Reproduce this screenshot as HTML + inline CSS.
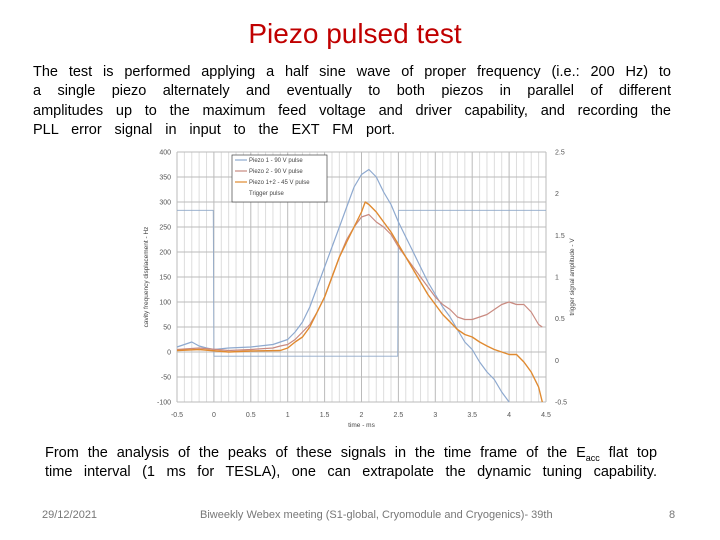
<!DOCTYPE html>
<html><head><meta charset="utf-8"><style>
body{margin:0;width:720px;height:540px;background:#fff;position:relative;overflow:hidden;font-family:"Liberation Sans",sans-serif}
.t{position:absolute}
#title{left:0;width:710px;top:18px;text-align:center;color:#c00000;font-size:28px}
.ln{position:absolute;font-size:14.5px;text-align:justify;text-align-last:justify;color:#000;white-space:nowrap;overflow:visible}
.f{font-size:11px;color:#777;top:509px}
</style></head><body>
<div class="t" id="title">Piezo pulsed test</div>
<div class="t" style="left:0;top:0">
<div class="ln" style="left:33px;width:638px;top:64px">The test is performed applying a half sine wave of proper frequency (i.e.: 200 Hz) to</div>
<div class="ln" style="left:33px;width:638px;top:83px">a single piezo alternately and eventually to both piezos in parallel of different</div>
<div class="ln" style="left:33px;width:638px;top:103px">amplitudes up to the maximum feed voltage and driver capability, and recording the</div>
<div class="ln" style="left:33px;width:362px;top:122px">PLL error signal in input to the EXT FM port.</div>
</div>
<svg class="t" style="left:0;top:0" width="720" height="540" id="chart"></svg>
<div class="t" style="left:0;top:0">
<div class="ln" style="left:45px;width:612px;top:445px">From the analysis of the peaks of these signals in the time frame of the E<sub style="font-size:9px">acc</sub> flat top</div>
<div class="ln" style="left:45px;width:612px;top:464px">time interval (1 ms for TESLA), one can extrapolate the dynamic tuning capability.</div>
</div>
<div class="t f" style="left:42px">29/12/2021</div>
<div class="t f" style="left:200px">Biweekly Webex meeting (S1-global, Cryomodule and Cryogenics)- 39th</div>
<div class="t f" style="left:669px">8</div>
<script>
const xTicks=[-0.5,0,0.5,1,1.5,2,2.5,3,3.5,4,4.5];
const yTicks=[400,350,300,250,200,150,100,50,0,-50,-100];
const y2Ticks=[2.5,2,1.5,1,0.5,0,-0.5];
const tBlue=[-0.5,-0.4,-0.3,-0.2,-0.1,0,0.2,0.5,0.8,1.0,1.1,1.2,1.3,1.4,1.5,1.6,1.7,1.8,1.9,2.0,2.1,2.2,2.3,2.4,2.5,2.6,2.7,2.8,2.9,3.0,3.1,3.2,3.3,3.4,3.5,3.6,3.7,3.8,3.9,4.0];
const vBlue=[10,15,20,12,8,5,8,10,15,25,40,60,90,130,170,210,250,290,330,355,365,350,320,295,260,230,200,170,140,115,90,70,45,20,5,-20,-40,-55,-80,-100];
const tRed=[-0.5,-0.2,0.2,0.5,0.8,0.9,1.0,1.1,1.2,1.3,1.4,1.5,1.6,1.7,1.8,1.9,2.0,2.1,2.2,2.3,2.4,2.5,2.6,2.7,2.8,2.9,3.0,3.1,3.2,3.3,3.4,3.5,3.6,3.7,3.8,3.9,4.0,4.1,4.2,4.3,4.4,4.45];
const vRed=[5,8,3,5,8,12,15,25,40,55,80,110,150,190,225,250,270,275,260,250,235,210,190,170,150,130,110,95,85,70,65,65,70,75,85,95,100,95,95,80,55,50];
const tOrange=[-0.5,-0.2,0.2,0.5,0.9,1.0,1.1,1.2,1.3,1.4,1.5,1.6,1.7,1.8,1.9,2.0,2.05,2.1,2.2,2.3,2.4,2.5,2.6,2.7,2.8,2.9,3.0,3.1,3.2,3.3,3.4,3.5,3.6,3.7,3.8,3.9,4.0,4.1,4.2,4.3,4.4,4.45];
const vOrange=[3,5,0,2,3,8,20,30,50,80,110,150,190,220,250,280,300,295,280,260,240,215,190,165,140,115,95,75,60,45,35,30,20,12,5,0,-5,-5,-20,-40,-70,-100];
const tTrig=[-0.5,-0.01,0,2.49,2.5,4.5];
const vTrig=[1.8,1.8,0.05,0.05,1.8,1.8];
const NS='http://www.w3.org/2000/svg',svg=document.getElementById('chart');
const X0=177,X1=546,Y0=152,Y1=402;
const sx=t=>X0+(t+0.5)/5*(X1-X0), sy=v=>Y0+(400-v)/500*(Y1-Y0), sy2=v=>Y0+(2.5-v)/3*(Y1-Y0);
function el(tag,a,txt){const e=document.createElementNS(NS,tag);for(const k in a)e.setAttribute(k,a[k]);if(txt!=null)e.textContent=txt;svg.appendChild(e);return e;}
for(let i=0;i<=50;i++){const x=sx(-0.5+i*0.1);const g=el('line',{x1:x,x2:x,y1:Y0,y2:Y1,stroke:i%5==0?'#bbb':'#ddd','stroke-width':1});
}
yTicks.forEach(v=>{const g=el('line',{x1:X0,x2:X1,y1:sy(v),y2:sy(v),stroke:'#bbb'});

const l=el('text',{x:X0-6,y:sy(v)+2.5,'font-size':7,'text-anchor':'end',fill:'#555'},v);
});
y2Ticks.forEach(v=>{const l=el('text',{x:X1+9,y:sy2(v)+2.5,'font-size':7,fill:'#555'},v);
});
xTicks.forEach(v=>{const l=el('text',{x:sx(v),y:Y1+15,'font-size':7,'text-anchor':'middle',fill:'#555'},v);
});
let a=el('text',{x:(X0+X1)/2,y:Y1+25,'font-size':6.5,'text-anchor':'middle',fill:'#444'},'time - ms');

a=el('text',{x:0,y:0,'font-size':6.5,'text-anchor':'middle',fill:'#444',transform:`translate(148,${(Y0+Y1)/2}) rotate(-90)`},'cavity frequency displacement - Hz');

a=el('text',{x:0,y:0,'font-size':6.5,'text-anchor':'middle',fill:'#444',transform:`translate(574,${(Y0+Y1)/2}) rotate(-90)`},'trigger signal amplitude - V');

function line(ts,vs,f,c,w,name){const p=ts.map((t,i)=>sx(t).toFixed(1)+','+f(vs[i]).toFixed(1)).join(' ');
const e=el('polyline',{points:p,fill:'none',stroke:c,'stroke-width':w,'stroke-linejoin':'round'});
}
line(tTrig,vTrig,sy2,'#8fa8c8',0.8,'trigger-pulse-line');
line(tBlue,vBlue,sy,'#8ea9cf',1.2,'piezo1-line');
line(tRed,vRed,sy,'#c98a80',1.2,'piezo2-line');
line(tOrange,vOrange,sy,'#e08a30',1.4,'piezo12-line');
const lg=el('rect',{x:232,y:155,width:95,height:47,fill:'#fff',stroke:'#444','stroke-width':0.7});

[['Piezo 1 - 90 V pulse','#8ea9cf'],['Piezo 2 - 90 V pulse','#c98a80'],['Piezo 1+2 - 45 V pulse','#e08a30'],['Trigger pulse','none']].forEach((d,i)=>{
const y=162+i*11;
if(d[1]!='none'){const s=el('line',{x1:235,x2:247,y1:y-2,y2:y-2,stroke:d[1],'stroke-width':1.2});
}
const t=el('text',{x:249,y:y,'font-size':6,fill:'#444'},d[0]);
});
</script>
</body></html>
